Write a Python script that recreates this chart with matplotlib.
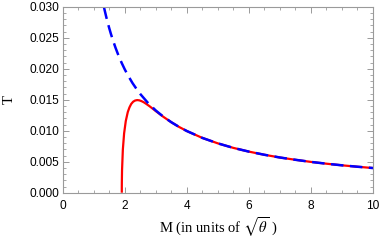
import matplotlib
matplotlib.use("Agg")
import matplotlib.pyplot as plt
from matplotlib.ticker import MultipleLocator

# Commutative (blue dashed) curve: M vs T
m_blue = [1.326, 1.36, 1.4, 1.45, 1.5, 1.55, 1.6, 1.7, 1.8, 1.9, 2.0, 2.1, 2.25, 2.4, 2.5, 2.75,
          3.0, 3.25, 3.5, 3.75, 4.0, 4.5, 5.0, 5.5, 6.0, 6.5, 7.0, 7.5, 8.0, 8.5, 9.0, 9.5, 10.0]
t_blue = [0.03000, 0.02926, 0.02842, 0.02744, 0.02653, 0.02567, 0.02487, 0.02341, 0.02210,
          0.02094, 0.01989, 0.01895, 0.01768, 0.01658, 0.01592, 0.01447, 0.01326, 0.01224,
          0.01137, 0.01061, 0.00995, 0.00884, 0.00796, 0.00723, 0.00663, 0.00612, 0.00568,
          0.00531, 0.00497, 0.00468, 0.00442, 0.00419, 0.00398]

# Noncommutative (red) curve: M vs T
m_red = [1.9043, 1.9043, 1.9057, 1.9121, 1.9250, 1.9380, 1.9790, 2.0325, 2.0965, 2.150, 2.208,
         2.270, 2.333, 2.400, 2.468, 2.540, 2.609, 2.700, 2.804, 3.001, 3.250, 3.5, 3.75, 4.0,
         4.5, 5.0, 5.5, 6.0, 6.5, 7.0, 7.5, 8.0, 8.5, 9.0, 9.5, 10.0]
t_red = [0.0, 0.00061, 0.00167, 0.00363, 0.00530, 0.00696, 0.00958, 0.01156, 0.01300, 0.01375,
         0.01432, 0.01468, 0.01487, 0.01494, 0.01490, 0.01477, 0.01460, 0.01430, 0.01393,
         0.01316, 0.01222, 0.01137, 0.01061, 0.00995, 0.00884, 0.00796, 0.00723, 0.00663,
         0.00612, 0.00568, 0.00531, 0.00497, 0.00468, 0.00442, 0.00419, 0.00398]

x_ticks = [0, 2, 4, 6, 8, 10]
y_ticks = [0.000, 0.005, 0.010, 0.015, 0.020, 0.025, 0.030]

plt.rcParams["mathtext.fontset"] = "stix"

fig = plt.figure(figsize=(3.81, 2.40), dpi=100)
ax = fig.add_axes([0.1646, 0.197, 0.979 - 0.1646, 0.972 - 0.197])

ax.plot(m_red, t_red, color=(1, 0, 0), lw=1.6, solid_capstyle="butt")
ax.plot(m_blue, t_blue, color=(0, 0, 1), lw=1.8, dashes=(5, 2.6))

ax.set_xlim(0, 10)
ax.set_ylim(0, 0.030)
ax.set_xticks(x_ticks)
ax.set_yticks(y_ticks)
ax.set_xticklabels([str(v) for v in x_ticks])
ax.set_yticklabels([f"{v:.3f}" for v in y_ticks])
ax.xaxis.set_minor_locator(MultipleLocator(0.5))
ax.yaxis.set_minor_locator(MultipleLocator(0.001))

frame_col = "#9a9a9a"
for s in ax.spines.values():
    s.set_color(frame_col)
    s.set_linewidth(0.8)
ax.tick_params(which="both", direction="in", top=True, right=True, color=frame_col,
               labelsize=8.6, labelcolor="black")
ax.tick_params(axis="x", pad=5)
ax.tick_params(axis="y", pad=2.5)
ax.tick_params(which="major", length=4, width=0.7)
ax.tick_params(which="minor", length=2, width=0.6)
for lab in ax.get_xticklabels() + ax.get_yticklabels():
    lab.set_fontfamily("Liberation Sans")

ax.set_xlabel(r"M (in units of $\sqrt{\theta}$ )", family="Liberation Serif", fontsize=10.5, labelpad=3)
ax.set_ylabel("T", family="Liberation Serif", fontsize=10.5, labelpad=10)

fig.savefig("out.png", dpi=100)
